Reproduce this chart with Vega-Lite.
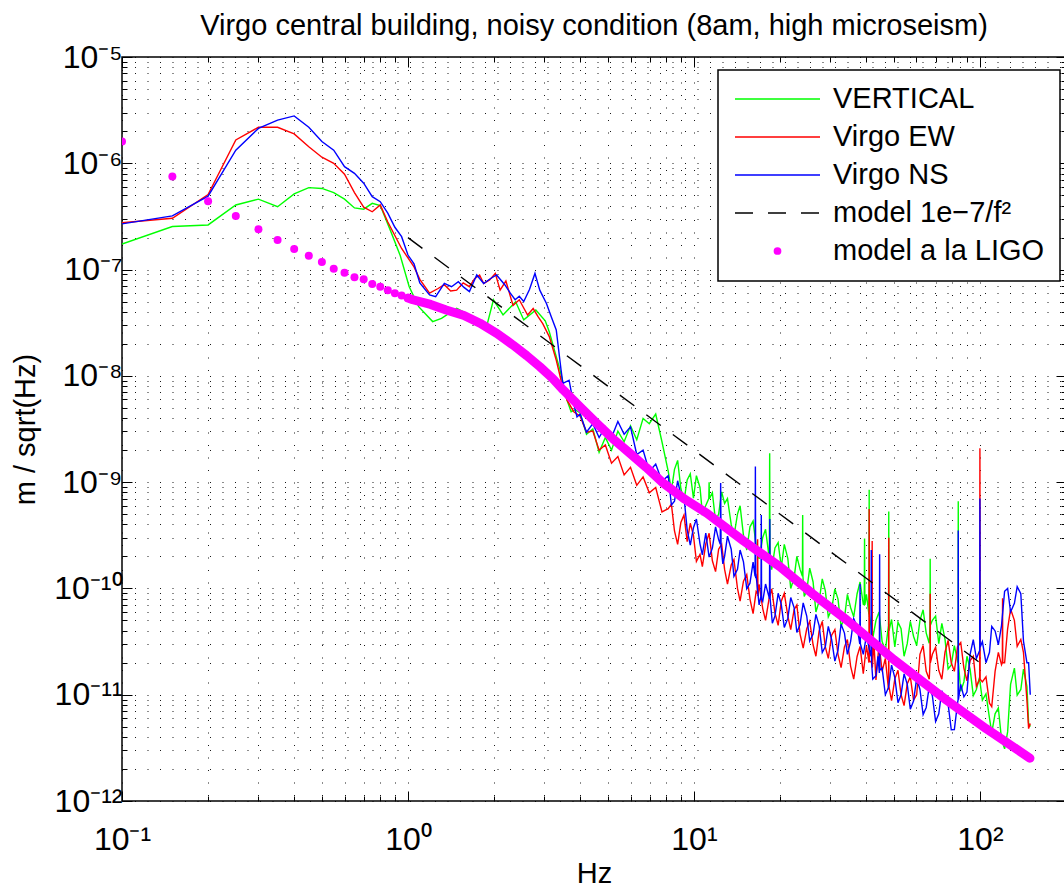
{
"$schema": "https://vega.github.io/schema/vega-lite/v6.json",
"width": 944, "height": 744,
"autosize": {"type": "none"},
"padding": {"left": 122, "top": 57, "right": 0, "bottom": 88},
"background": "white",
"title": {"text": "Virgo central building, noisy condition (8am, high microseism)", "fontSize": 29, "fontWeight": "normal", "font": "Liberation Sans", "anchor": "middle", "frame": "group", "baseline": "alphabetic", "offset": -23, "color": "black"},
"config": {
  "font": "Liberation Sans",
  "view": {"stroke": "black", "strokeWidth": 1.5},
  "axis": {"labelFont": "Liberation Sans", "labelFontSize": 32, "labelColor": "black", "titleFont": "Liberation Sans", "titleFontSize": 29, "titleFontWeight": "normal", "titleColor": "black", "tickColor": "black", "tickWidth": 1, "domain": false, "labelFlush": false, "labelOverlap": false, "labelBound": false, "gridColor": "black", "gridDash": [1, 11.5], "gridWidth": 1, "gridOpacity": 0.9}
},
"datasets": {
"green": [
{"f":0.1,"v":1.74e-7},{"f":0.15,"v":2.54e-7},{"f":0.2,"v":2.63e-7},{"f":0.25,"v":4.05e-7},{"f":0.3,"v":4.6e-7},{"f":0.35,"v":3.9e-7},{"f":0.4,"v":5.15e-7},{"f":0.45,"v":5.9e-7},{"f":0.5,"v":5.8e-7},{"f":0.55,"v":5.3e-7},{"f":0.6,"v":4.6e-7},{"f":0.65,"v":3.8e-7},{"f":0.7,"v":3.7e-7},{"f":0.75,"v":4.2e-7},{"f":0.8,"v":4.0e-7},{"f":0.87,"v":2.3e-7},{"f":0.94,"v":1.35e-7},{"f":1.01,"v":6.9e-8},{"f":1.09,"v":4.48e-8},{"f":1.22,"v":3.24e-8},{"f":1.31,"v":3.48e-8},{"f":1.48,"v":4.32e-8},{"f":1.64,"v":3.74e-8},{"f":1.89,"v":3.01e-8},{"f":1.99,"v":5.2e-8},{"f":2.15,"v":3.74e-8},{"f":2.38,"v":4.99e-8},{"f":2.54,"v":3.36e-8},{"f":2.8,"v":4.17e-8},{"f":3.02,"v":3.3e-8},{"f":3.12,"v":2.6e-8},{"f":3.4,"v":1.14e-8},{"f":3.6,"v":5.9e-9},{"f":3.72,"v":4.6e-9},{"f":3.85,"v":4.8e-9},
{"f":4.0,"v":4.47e-9},{"f":4.21,"v":2.82e-9},{"f":4.43,"v":3.16e-9},{"f":4.66,"v":1.91e-9},{"f":4.9,"v":2.63e-9},{"f":5.15,"v":2.0e-9},{"f":5.42,"v":3.02e-9},{"f":5.7,"v":2.4e-9},{"f":6.0,"v":3.39e-9},{"f":6.31,"v":2.51e-9},{"f":6.64,"v":3.98e-9},{"f":6.98,"v":3.55e-9},{"f":7.35,"v":4.37e-9},{"f":7.73,"v":2.4e-9},{"f":8.13,"v":1.26e-9},{"f":8.55,"v":1.32e-9},{"f":9.0,"v":8.71e-10},{"f":9.47,"v":1.05e-9},{"f":9.96,"v":7.08e-10},{"f":10.5,"v":8.91e-10},{"f":11.0,"v":6.03e-10},{"f":11.6,"v":7.94e-10},{"f":12.2,"v":5.01e-10},{"f":12.8,"v":6.31e-10},{"f":13.5,"v":3.98e-10},{"f":14.2,"v":5.01e-10},{"f":14.9,"v":3.16e-10},{"f":15.7,"v":3.8e-10},{"f":16.5,"v":2.51e-10},{"f":17.4,"v":3.02e-10},{"f":18.3,"v":2.0e-10},{"f":19.2,"v":2.4e-10},{"f":20.2,"v":1.58e-10},{"f":21.3,"v":1.91e-10},{"f":22.4,"v":1.26e-10},{"f":23.5,"v":1.51e-10},{"f":24.8,"v":9.55e-11},{"f":26.1,"v":1.15e-10},{"f":27.4,"v":7.59e-11},{"f":28.8,"v":9.55e-11},{"f":30.3,"v":6.31e-11},{"f":31.9,"v":7.94e-11},{"f":33.6,"v":5.25e-11},{"f":35.3,"v":6.61e-11},{"f":37.2,"v":8.91e-11},{"f":39.1,"v":7.08e-11},{"f":41.1,"v":5.62e-11},{"f":43.3,"v":5.01e-11},{"f":45.5,"v":3.16e-11},{"f":47.9,"v":4.47e-11},{"f":50.4,"v":2.82e-11},{"f":53.0,"v":4.17e-11},{"f":55.7,"v":3.02e-11},{"f":58.6,"v":3.55e-11},{"f":61.7,"v":5.01e-11},{"f":64.9,"v":3.8e-11},{"f":68.2,"v":5.01e-11},{"f":71.8,"v":3.02e-11},{"f":75.5,"v":3.31e-11},{"f":79.4,"v":1.91e-11},{"f":83.5,"v":2.09e-11},{"f":87.9,"v":1.32e-11},{"f":92.4,"v":1.74e-11},{"f":97.2,"v":1.12e-11},{"f":102,"v":8.91e-12},{"f":108,"v":6.03e-12},{"f":113,"v":6.61e-12},{"f":119,"v":3.8e-12},{"f":125,"v":4.47e-12},{"f":132,"v":1.78e-11},{"f":139,"v":1.12e-11},{"f":146,"v":1.2e-11},{"f":150,"v":5.01e-12},
{"f":8.34,"v":8.4e-10},{"f":8.77,"v":1.6e-9},{"f":9.23,"v":6.7e-10},{"f":9.71,"v":1.2e-9},{"f":10.2,"v":1.15e-9},{"f":10.7,"v":5.1e-10},{"f":11.9,"v":4.3e-10},{"f":12.5,"v":8.1e-10},{"f":13.1,"v":7.0e-10},{"f":13.8,"v":3.1e-10},{"f":14.5,"v":6.0e-10},{"f":15.3,"v":2.3e-10},{"f":16.1,"v":4.3e-10},{"f":16.9,"v":1.9e-10},{"f":17.8,"v":3.6e-10},{"f":18.7,"v":1.5e-10},{"f":19.7,"v":2.7e-10},{"f":20.7,"v":2.6e-10},{"f":21.8,"v":1.0e-10},{"f":22.9,"v":2.0e-10},{"f":24.3,"v":8.4e-11},{"f":25.4,"v":1.55e-10},{"f":26.7,"v":6.0e-11},{"f":28.1,"v":1.23e-10},{"f":29.5,"v":5.4e-11},{"f":31.1,"v":9.9e-11},{"f":32.7,"v":4.4e-11},{"f":34.4,"v":8.8e-11},{"f":36.2,"v":5.4e-11},{"f":38.1,"v":1.15e-10},{"f":40.1,"v":8.8e-11},{"f":42.2,"v":3.4e-11},{"f":44.4,"v":6.0e-11},{"f":46.7,"v":2.6e-11},{"f":49.1,"v":5.1e-11},{"f":51.7,"v":4.8e-11},{"f":54.3,"v":2.3e-11},{"f":57.1,"v":4.9e-11},{"f":60.1,"v":2.9e-11},{"f":63.3,"v":6.3e-11},{"f":66.5,"v":3.05e-11},{"f":70.0,"v":5.5e-11},{"f":73.6,"v":4.7e-11},{"f":77.4,"v":1.75e-11},{"f":81.4,"v":2.9e-11},{"f":85.7,"v":1.08e-11},{"f":90.1,"v":2.3e-11},{"f":94.8,"v":9.8e-12},{"f":99.6,"v":1.45e-11},{"f":105,"v":1.02e-11},{"f":110,"v":4.4e-12},{"f":116,"v":7.5e-12},{"f":122,"v":3.1e-12},{"f":128,"v":1.25e-11},{"f":135,"v":9.9e-12},{"f":142,"v":1.74e-11},{"f":148,"v":5.4e-12},
{"f":11.27,"v":7e-10},{"f":11.3,"v":1.0e-9},{"f":11.33,"v":7e-10},{"f":18.35,"v":2.1e-10},{"f":18.4,"v":1.87e-9},{"f":18.45,"v":2.1e-10},{"f":23.95,"v":1.3e-10},{"f":24.0,"v":4.9e-10},{"f":24.05,"v":1.3e-10},{"f":39.4,"v":7e-11},{"f":39.5,"v":2.95e-10},{"f":39.6,"v":7e-11},{"f":40.92,"v":5.7e-11},{"f":41.0,"v":8.5e-10},{"f":41.06,"v":5.6e-11},{"f":48.0,"v":5.3e-10},{"f":48.08,"v":4e-11},{"f":66.9,"v":4.5e-11},{"f":67.0,"v":1.9e-10},{"f":67.1,"v":4.5e-11},{"f":83.9,"v":2.0e-11},{"f":84.0,"v":6.6e-10},{"f":84.1,"v":2.0e-11}
],
"red": [
{"f":0.1,"v":2.76e-7},{"f":0.15,"v":3.04e-7},{"f":0.2,"v":5.07e-7},{"f":0.25,"v":1.66e-6},{"f":0.3,"v":2.18e-6},{"f":0.35,"v":2.18e-6},{"f":0.4,"v":1.89e-6},{"f":0.45,"v":1.43e-6},{"f":0.5,"v":1.14e-6},{"f":0.55,"v":1.0e-6},{"f":0.6,"v":7.9e-7},{"f":0.65,"v":5.3e-7},{"f":0.7,"v":3.86e-7},{"f":0.75,"v":3.5e-7},{"f":0.8,"v":4.05e-7},{"f":0.85,"v":2.8e-7},{"f":0.95,"v":1.58e-7},{"f":1.05,"v":1.06e-7},{"f":1.1,"v":8.1e-8},{"f":1.19,"v":6.0e-8},{"f":1.27,"v":6.6e-8},{"f":1.34,"v":7.2e-8},{"f":1.41,"v":6.3e-8},{"f":1.48,"v":6.4e-8},{"f":1.56,"v":7.5e-8},{"f":1.64,"v":6.9e-8},{"f":1.71,"v":8.2e-8},{"f":1.78,"v":8.9e-8},{"f":1.84,"v":7.4e-8},{"f":1.93,"v":8.0e-8},{"f":2.02,"v":9.2e-8},{"f":2.1,"v":6.4e-8},{"f":2.2,"v":7.8e-8},{"f":2.33,"v":4.6e-8},{"f":2.45,"v":5.2e-8},{"f":2.62,"v":3.74e-8},{"f":2.74,"v":4.3e-8},{"f":2.85,"v":3.6e-8},{"f":2.96,"v":3.1e-8},{"f":3.12,"v":2.34e-8},{"f":3.3,"v":1.41e-8},{"f":3.43,"v":9.1e-9},{"f":3.6,"v":5.9e-9},{"f":3.8,"v":4.6e-9},
{"f":4.0,"v":4.17e-9},{"f":4.21,"v":2.95e-9},{"f":4.43,"v":3.02e-9},{"f":4.66,"v":2.0e-9},{"f":4.9,"v":2.24e-9},{"f":5.15,"v":1.51e-9},{"f":5.42,"v":1.74e-9},{"f":5.7,"v":1.17e-9},{"f":6.0,"v":1.38e-9},{"f":6.31,"v":9.33e-10},{"f":6.64,"v":1.12e-9},{"f":6.98,"v":7.94e-10},{"f":7.35,"v":8.91e-10},{"f":7.73,"v":5.25e-10},{"f":8.13,"v":5.62e-10},{"f":8.55,"v":3.47e-10},{"f":9.0,"v":4.17e-10},{"f":9.47,"v":2.75e-10},{"f":9.96,"v":3.16e-10},{"f":10.5,"v":2.09e-10},{"f":11.0,"v":2.63e-10},{"f":11.6,"v":1.82e-10},{"f":12.2,"v":2.34e-10},{"f":12.8,"v":1.51e-10},{"f":13.5,"v":1.66e-10},{"f":14.2,"v":1.0e-10},{"f":14.9,"v":1.17e-10},{"f":15.7,"v":7.94e-11},{"f":16.5,"v":9.33e-11},{"f":17.4,"v":6.46e-11},{"f":18.3,"v":7.94e-11},{"f":19.2,"v":5.89e-11},{"f":20.2,"v":7.59e-11},{"f":21.3,"v":5.5e-11},{"f":22.4,"v":6.31e-11},{"f":23.5,"v":3.72e-11},{"f":24.8,"v":4.17e-11},{"f":26.1,"v":2.95e-11},{"f":27.4,"v":3.98e-11},{"f":28.8,"v":2.82e-11},{"f":30.3,"v":3.63e-11},{"f":31.9,"v":2.4e-11},{"f":33.6,"v":2.82e-11},{"f":35.3,"v":1.86e-11},{"f":37.2,"v":2.29e-11},{"f":39.1,"v":1.58e-11},{"f":41.1,"v":2.09e-11},{"f":43.3,"v":1.38e-11},{"f":45.5,"v":1.66e-11},{"f":47.9,"v":1.12e-11},{"f":50.4,"v":1.41e-11},{"f":53.0,"v":1.0e-11},{"f":55.7,"v":1.26e-11},{"f":58.6,"v":8.91e-12},{"f":61.7,"v":2.4e-11},{"f":64.9,"v":1.66e-11},{"f":68.2,"v":2.4e-11},{"f":71.8,"v":1.7e-11},{"f":75.5,"v":2.51e-11},{"f":79.4,"v":2.0e-11},{"f":83.5,"v":2.82e-11},{"f":87.9,"v":1.78e-11},{"f":92.4,"v":2.09e-11},{"f":97.2,"v":1.2e-11},{"f":102,"v":1.32e-11},{"f":108,"v":8.32e-12},{"f":113,"v":1.66e-11},{"f":119,"v":1.91e-11},{"f":125,"v":4.17e-11},{"f":132,"v":5.01e-11},{"f":139,"v":3.31e-11},{"f":146,"v":8.91e-12},{"f":150,"v":5.37e-12},
{"f":8.34,"v":6.2e-10},{"f":8.77,"v":2.6e-10},{"f":9.23,"v":4.9e-10},{"f":9.71,"v":4.1e-10},{"f":10.2,"v":1.8e-10},{"f":10.7,"v":1.6e-10},{"f":11.3,"v":3.3e-10},{"f":11.9,"v":1.44e-10},{"f":12.5,"v":2.6e-10},{"f":13.1,"v":1.1e-10},{"f":13.8,"v":1.87e-10},{"f":14.5,"v":7.6e-11},{"f":15.3,"v":1.35e-10},{"f":16.1,"v":5.8e-11},{"f":16.9,"v":1.09e-10},{"f":17.8,"v":5.0e-11},{"f":18.7,"v":9.9e-11},{"f":19.7,"v":4.5e-11},{"f":20.7,"v":9.0e-11},{"f":21.8,"v":4.1e-11},{"f":22.9,"v":7.0e-11},{"f":24.1,"v":2.75e-11},{"f":25.4,"v":4.9e-11},{"f":26.7,"v":2.3e-11},{"f":28.1,"v":4.9e-11},{"f":29.5,"v":2.2e-11},{"f":31.1,"v":4.1e-11},{"f":32.7,"v":1.8e-11},{"f":34.4,"v":3.3e-11},{"f":36.2,"v":1.4e-11},{"f":38.1,"v":2.85e-11},{"f":40.1,"v":2.9e-11},{"f":42.6,"v":3.1e-11},{"f":44.4,"v":3.0e-11},{"f":46.7,"v":2.2e-11},{"f":49.1,"v":8.8e-12},{"f":51.7,"v":1.7e-11},{"f":54.3,"v":7.9e-12},{"f":57.1,"v":1.48e-11},{"f":60.1,"v":1.0e-11},{"f":63.3,"v":2.9e-11},{"f":66.5,"v":1.4e-11},{"f":70.0,"v":2.8e-11},{"f":73.6,"v":1.4e-11},{"f":77.4,"v":3.25e-11},{"f":81.4,"v":1.66e-11},{"f":85.7,"v":3.1e-11},{"f":90.1,"v":1.35e-11},{"f":94.8,"v":2.3e-11},{"f":105,"v":1.47e-11},{"f":110,"v":7.7e-12},{"f":116,"v":2.5e-11},{"f":122,"v":2.0e-11},{"f":128,"v":6.4e-11},{"f":135,"v":2.85e-11},{"f":142,"v":2.5e-11},{"f":148,"v":4.8e-12},
{"f":16.66,"v":9e-11},{"f":16.7,"v":2.9e-10},{"f":16.74,"v":8.5e-11},{"f":40.92,"v":2.0e-11},{"f":41.0,"v":5.6e-10},{"f":41.06,"v":2.1e-11},{"f":41.95,"v":2e-11},{"f":42.0,"v":2.8e-10},{"f":42.05,"v":1.8e-11},{"f":47.95,"v":1.2e-11},{"f":48.0,"v":3.0e-10},{"f":48.05,"v":1.2e-11},{"f":66.9,"v":2e-11},{"f":67.0,"v":8.9e-11},{"f":67.1,"v":2e-11},{"f":99.8,"v":1.4e-11},{"f":100,"v":2.08e-9},{"f":100.2,"v":1.4e-11},{"f":119.8,"v":2e-11},{"f":120,"v":8.1e-11},{"f":120.2,"v":2e-11}
],
"blue": [
{"f":0.1,"v":2.69e-7},{"f":0.15,"v":3.2e-7},{"f":0.2,"v":4.9e-7},{"f":0.25,"v":1.33e-6},{"f":0.3,"v":2.13e-6},{"f":0.35,"v":2.55e-6},{"f":0.4,"v":2.79e-6},{"f":0.45,"v":2.18e-6},{"f":0.5,"v":1.6e-6},{"f":0.55,"v":1.33e-6},{"f":0.6,"v":9.3e-7},{"f":0.65,"v":8.05e-7},{"f":0.7,"v":6.5e-7},{"f":0.75,"v":4.85e-7},{"f":0.8,"v":4.35e-7},{"f":0.85,"v":3.4e-7},{"f":0.9,"v":2.5e-7},{"f":0.95,"v":2.04e-7},{"f":1.0,"v":1.37e-7},{"f":1.05,"v":1.13e-7},{"f":1.1,"v":7.5e-8},{"f":1.19,"v":5.77e-8},{"f":1.25,"v":5.56e-8},{"f":1.34,"v":7.4e-8},{"f":1.42,"v":6.9e-8},{"f":1.5,"v":7.7e-8},{"f":1.57,"v":6.8e-8},{"f":1.64,"v":6.2e-8},{"f":1.74,"v":8.9e-8},{"f":1.84,"v":7.4e-8},{"f":1.94,"v":8.2e-8},{"f":2.04,"v":8.9e-8},{"f":2.18,"v":7.2e-8},{"f":2.28,"v":6.0e-8},{"f":2.37,"v":5.2e-8},{"f":2.45,"v":5.6e-8},{"f":2.54,"v":5.0e-8},{"f":2.66,"v":6.5e-8},{"f":2.78,"v":9.2e-8},{"f":2.89,"v":6.4e-8},{"f":3.05,"v":4.8e-8},{"f":3.17,"v":3.6e-8},{"f":3.3,"v":2.7e-8},{"f":3.43,"v":1.14e-8},{"f":3.48,"v":8.5e-9},{"f":3.66,"v":9.1e-9},{"f":3.77,"v":5.9e-9},{"f":3.9,"v":4.1e-9},
{"f":4.0,"v":4.37e-9},{"f":4.21,"v":2.95e-9},{"f":4.43,"v":3.55e-9},{"f":4.66,"v":2.63e-9},{"f":4.9,"v":3.31e-9},{"f":5.15,"v":2.63e-9},{"f":5.42,"v":3.72e-9},{"f":5.7,"v":2.82e-9},{"f":6.0,"v":3.31e-9},{"f":6.31,"v":1.82e-9},{"f":6.64,"v":2.0e-9},{"f":6.98,"v":1.26e-9},{"f":7.35,"v":1.48e-9},{"f":7.73,"v":1.02e-9},{"f":8.13,"v":1.15e-9},{"f":8.55,"v":6.61e-10},{"f":9.0,"v":7.59e-10},{"f":9.47,"v":3.55e-10},{"f":9.96,"v":3.72e-10},{"f":10.5,"v":2.63e-10},{"f":11.0,"v":3.31e-10},{"f":11.6,"v":2.4e-10},{"f":12.2,"v":2.88e-10},{"f":12.8,"v":2.0e-10},{"f":13.5,"v":2.34e-10},{"f":14.2,"v":1.51e-10},{"f":14.9,"v":1.78e-10},{"f":15.7,"v":1.12e-10},{"f":16.5,"v":1.32e-10},{"f":17.4,"v":7.59e-11},{"f":18.3,"v":8.32e-11},{"f":19.2,"v":5.5e-11},{"f":20.2,"v":7.08e-11},{"f":21.3,"v":5.25e-11},{"f":22.4,"v":6.61e-11},{"f":23.5,"v":4.57e-11},{"f":24.8,"v":5.5e-11},{"f":26.1,"v":3.72e-11},{"f":27.4,"v":4.47e-11},{"f":28.8,"v":2.82e-11},{"f":30.3,"v":3.31e-11},{"f":31.9,"v":2.63e-11},{"f":33.6,"v":3.8e-11},{"f":35.3,"v":3.16e-11},{"f":37.2,"v":4.37e-11},{"f":39.1,"v":2.4e-11},{"f":41.1,"v":2.63e-11},{"f":43.3,"v":1.51e-11},{"f":45.5,"v":1.78e-11},{"f":47.9,"v":1.17e-11},{"f":50.4,"v":1.45e-11},{"f":53.0,"v":1.0e-11},{"f":55.7,"v":1.26e-11},{"f":58.6,"v":8.71e-12},{"f":61.7,"v":1.12e-11},{"f":64.9,"v":7.59e-12},{"f":68.2,"v":9.77e-12},{"f":71.8,"v":6.61e-12},{"f":75.5,"v":8.51e-12},{"f":79.4,"v":4.68e-12},{"f":83.5,"v":8.32e-12},{"f":87.9,"v":9.55e-12},{"f":92.4,"v":2.4e-11},{"f":97.2,"v":2.19e-11},{"f":102,"v":3.16e-11},{"f":108,"v":2.51e-11},{"f":113,"v":3.98e-11},{"f":119,"v":4.47e-11},{"f":125,"v":1.0e-10},{"f":132,"v":7.24e-11},{"f":139,"v":8.91e-11},{"f":146,"v":2.0e-11},{"f":150,"v":1.0e-11},
{"f":8.34,"v":6.1e-10},{"f":8.77,"v":1.03e-9},{"f":9.23,"v":7.3e-10},{"f":9.71,"v":2.55e-10},{"f":10.2,"v":4.5e-10},{"f":10.7,"v":2.07e-10},{"f":11.3,"v":1.97e-10},{"f":11.9,"v":3.8e-10},{"f":12.62,"v":1.7e-10},{"f":13.1,"v":3.1e-10},{"f":13.8,"v":1.3e-10},{"f":14.5,"v":2.3e-10},{"f":15.3,"v":9.9e-11},{"f":16.1,"v":1.77e-10},{"f":16.9,"v":7.0e-11},{"f":17.8,"v":1.1e-10},{"f":18.8,"v":4.7e-11},{"f":19.7,"v":9.0e-11},{"f":20.7,"v":4.3e-11},{"f":21.8,"v":8.2e-11},{"f":22.9,"v":3.85e-11},{"f":24.1,"v":7.3e-11},{"f":25.4,"v":3.2e-11},{"f":26.7,"v":5.7e-11},{"f":28.1,"v":2.5e-11},{"f":29.5,"v":4.4e-11},{"f":31.1,"v":2.07e-11},{"f":32.7,"v":4.6e-11},{"f":34.4,"v":2.4e-11},{"f":36.2,"v":5.2e-11},{"f":40.1,"v":3.6e-11},{"f":42.2,"v":1.4e-11},{"f":44.0,"v":2.3e-11},{"f":46.7,"v":1.0e-11},{"f":49.1,"v":1.9e-11},{"f":51.7,"v":8.4e-12},{"f":54.3,"v":1.57e-11},{"f":57.1,"v":7.3e-12},{"f":60.1,"v":1.43e-11},{"f":63.3,"v":6.5e-12},{"f":66.5,"v":1.2e-11},{"f":70.0,"v":5.6e-12},{"f":73.6,"v":1.09e-11},{"f":77.4,"v":8.2e-12},{"f":81.4,"v":4.7e-12},{"f":85.7,"v":1.25e-11},{"f":90.1,"v":1.06e-11},{"f":94.8,"v":3.3e-11},{"f":105,"v":2.0e-11},{"f":110,"v":4.4e-11},{"f":116,"v":2.95e-11},{"f":122,"v":9.4e-11},{"f":128,"v":6.0e-11},{"f":135,"v":1.04e-10},{"f":142,"v":3.2e-11},{"f":148,"v":2.0e-11},
{"f":12.36,"v":2.6e-10},{"f":12.4,"v":9.8e-10},{"f":12.44,"v":2.5e-10},{"f":16.36,"v":1.3e-10},{"f":16.4,"v":1.4e-9},{"f":16.44,"v":1.3e-10},{"f":17.16,"v":8.5e-11},{"f":17.2,"v":4.9e-10},{"f":17.24,"v":8e-11},{"f":18.37,"v":8e-11},{"f":18.42,"v":4.5e-10},{"f":18.47,"v":8e-11},{"f":38.0,"v":3e-11},{"f":38.1,"v":1.1e-10},{"f":38.2,"v":3e-11},{"f":41.6,"v":2.3e-11},{"f":41.7,"v":2.3e-10},{"f":41.8,"v":2.0e-11},{"f":44.5,"v":1.6e-11},{"f":44.6,"v":2.1e-10},{"f":44.7,"v":1.7e-11},{"f":83.9,"v":9e-12},{"f":84.0,"v":3.5e-10},{"f":84.1,"v":9e-12},{"f":99.8,"v":2.6e-11},{"f":100,"v":7.0e-10},{"f":100.2,"v":2.8e-11}
],
"model": [{"f":1,"v":2e-7},{"f":100,"v":2e-11}],
"ligodots": [
{"f":0.1,"v":1.6e-6},{"f":0.15,"v":7.5e-7},{"f":0.2,"v":4.4e-7},{"f":0.25,"v":3.2e-7},{"f":0.3,"v":2.39e-7},{"f":0.35,"v":1.9e-7},{"f":0.4,"v":1.56e-7},{"f":0.45,"v":1.35e-7},{"f":0.5,"v":1.18e-7},{"f":0.55,"v":1.02e-7},{"f":0.6,"v":9.35e-8},{"f":0.65,"v":8.46e-8},{"f":0.7,"v":8.1e-8},{"f":0.75,"v":7.3e-8},{"f":0.8,"v":6.9e-8},{"f":0.85,"v":6.4e-8},{"f":0.9,"v":6.0e-8},{"f":0.95,"v":5.7e-8},{"f":1.0,"v":5.4e-8}
],
"ligoline": [
{"f":1.0,"v":5.4e-8},{"f":1.04,"v":5.2e-8},{"f":1.2,"v":4.7e-8},{"f":1.36,"v":4.17e-8},{"f":1.57,"v":3.7e-8},{"f":1.785,"v":3.13e-8},{"f":2.05,"v":2.5e-8},{"f":2.33,"v":1.95e-8},{"f":2.6,"v":1.55e-8},{"f":2.89,"v":1.22e-8},{"f":3.2,"v":9.5e-9},{"f":3.49,"v":7.37e-9},{"f":4.0,"v":5.1e-9},{"f":4.57,"v":3.58e-9},{"f":5.2,"v":2.57e-9},{"f":5.97,"v":1.87e-9},{"f":6.8,"v":1.38e-9},{"f":7.81,"v":9.8e-10},{"f":9.3,"v":6.9e-10},{"f":11.1,"v":5.1e-10},{"f":14.9,"v":2.8e-10},{"f":20,"v":1.6e-10},{"f":26,"v":8.9e-11},{"f":34.2,"v":5.06e-11},{"f":50,"v":2.14e-11},{"f":76.4,"v":8.9e-12},{"f":105,"v":4.8e-12},{"f":149.6,"v":2.53e-12}
]
},
"layer": [
{
 "data": {"name": "green"},
 "mark": {"type": "line", "strokeWidth": 1.4, "clip": true},
 "encoding": {
  "x": {"field": "f", "type": "quantitative", "scale": {"type": "log", "domain": [0.1, 200], "nice": false},
   "axis": {"orient": "bottom", "values": [0.1,0.2,0.3,0.4,0.5,0.6,0.7,0.8,0.9,1,2,3,4,5,6,7,8,9,10,20,30,40,50,60,70,80,90,100,200], "grid": true,
    "labelExpr": "abs(log(datum.value)/LN10 - round(log(datum.value)/LN10)) < 0.01 ? '10' + (datum.value < 1 ? '⁻' : '') + (abs(round(log(datum.value)/LN10)) >= 10 ? substring('⁰¹²³⁴⁵⁶⁷⁸⁹', floor(abs(round(log(datum.value)/LN10))/10), floor(abs(round(log(datum.value)/LN10))/10) + 1) : '') + substring('⁰¹²³⁴⁵⁶⁷⁸⁹', abs(round(log(datum.value)/LN10)) % 10, abs(round(log(datum.value)/LN10)) % 10 + 1) : ''",
    "tickSize": {"condition": {"test": "abs(log(datum.value)/LN10 - round(log(datum.value)/LN10)) < 0.01", "value": -10}, "value": -5},
    "labelPadding": 33, "labelBaseline": "top", "labelAlign": "center",
    "title": "Hz", "titleY": 81, "titleBaseline": "alphabetic"}},
  "y": {"field": "v", "type": "quantitative", "scale": {"type": "log", "domain": [1e-12, 1e-5], "nice": false},
   "axis": {"orient": "left", "values": [1e-12,2e-12,3e-12,4e-12,5e-12,6e-12,7e-12,8e-12,9e-12,1e-11,2e-11,3e-11,4e-11,5e-11,6e-11,7e-11,8e-11,9e-11,1e-10,2e-10,3e-10,4e-10,5e-10,6e-10,7e-10,8e-10,9e-10,1e-9,2e-9,3e-9,4e-9,5e-9,6e-9,7e-9,8e-9,9e-9,1e-8,2e-8,3e-8,4e-8,5e-8,6e-8,7e-8,8e-8,9e-8,1e-7,2e-7,3e-7,4e-7,5e-7,6e-7,7e-7,8e-7,9e-7,1e-6,2e-6,3e-6,4e-6,5e-6,6e-6,7e-6,8e-6,9e-6,1e-5], "grid": true,
    "labelExpr": "abs(log(datum.value)/LN10 - round(log(datum.value)/LN10)) < 0.01 ? '10' + (datum.value < 1 ? '⁻' : '') + (abs(round(log(datum.value)/LN10)) >= 10 ? substring('⁰¹²³⁴⁵⁶⁷⁸⁹', floor(abs(round(log(datum.value)/LN10))/10), floor(abs(round(log(datum.value)/LN10))/10) + 1) : '') + substring('⁰¹²³⁴⁵⁶⁷⁸⁹', abs(round(log(datum.value)/LN10)) % 10, abs(round(log(datum.value)/LN10)) % 10 + 1) : ''",
    "tickSize": {"condition": {"test": "abs(log(datum.value)/LN10 - round(log(datum.value)/LN10)) < 0.01", "value": -10}, "value": -5},
    "labelPadding": 10, "labelAlign": "right", "labelBaseline": "middle",
    "title": "m / sqrt(Hz)", "titleX": -88, "titleBaseline": "alphabetic"}},
  "color": {"datum": "VERTICAL", "type": "nominal",
   "scale": {"domain": ["VERTICAL", "Virgo EW", "Virgo NS", "model 1e−7/f²", "model a la LIGO"], "range": ["#00ff00", "#ff0000", "#0000ff", "#000000", "#ff00ff"]},
   "legend": {"orient": "none", "legendX": 596, "legendY": 13, "direction": "vertical", "title": null,
    "symbolType": "stroke", "symbolSize": 7225, "symbolStrokeWidth": 1.5, "clipHeight": 28, "rowPadding": 9, "labelOffset": 41, "symbolOffset": 30,
    "labelFontSize": 29, "labelFont": "Liberation Sans", "labelColor": "black", "labelLimit": 500, "labelBaseline": "middle",
    "padding": 15, "strokeColor": "black", "fillColor": "white",
    "encode": {
     "symbols": {"update": {
      "shape": {"signal": "datum.value === 'model a la LIGO' ? 'circle' : 'stroke'"},
      "size": {"signal": "datum.value === 'model a la LIGO' ? 60 : 7225"},
      "fill": {"signal": "datum.value === 'model a la LIGO' ? '#ff00ff' : 'transparent'"},
      "fillOpacity": {"value": 1},
      "opacity": {"value": 1},
      "strokeWidth": {"signal": "datum.value === 'model a la LIGO' ? 0 : 1.5"},
      "strokeDash": {"signal": "datum.value === 'model 1e−7/f²' ? [18, 15] : [1, 0]"}
     }},
     "legend": {"update": {"strokeWidth": {"value": 1.5}}}
    }}
  }
 }
},
{
 "data": {"name": "red"},
 "mark": {"type": "line", "strokeWidth": 1.4, "clip": true},
 "encoding": {
  "x": {"field": "f", "type": "quantitative", "scale": {"type": "log", "domain": [0.1, 200], "nice": false},
   "axis": {"orient": "top", "values": [0.1,0.2,0.3,0.4,0.5,0.6,0.7,0.8,0.9,1,2,3,4,5,6,7,8,9,10,20,30,40,50,60,70,80,90,100,200], "grid": false, "labels": false, "title": null,
    "tickSize": {"condition": {"test": "abs(log(datum.value)/LN10 - round(log(datum.value)/LN10)) < 0.01", "value": -10}, "value": -5}}},
  "y": {"field": "v", "type": "quantitative", "scale": {"type": "log", "domain": [1e-12, 1e-5], "nice": false},
   "axis": {"orient": "right", "values": [1e-12,2e-12,3e-12,4e-12,5e-12,6e-12,7e-12,8e-12,9e-12,1e-11,2e-11,3e-11,4e-11,5e-11,6e-11,7e-11,8e-11,9e-11,1e-10,2e-10,3e-10,4e-10,5e-10,6e-10,7e-10,8e-10,9e-10,1e-9,2e-9,3e-9,4e-9,5e-9,6e-9,7e-9,8e-9,9e-9,1e-8,2e-8,3e-8,4e-8,5e-8,6e-8,7e-8,8e-8,9e-8,1e-7,2e-7,3e-7,4e-7,5e-7,6e-7,7e-7,8e-7,9e-7,1e-6,2e-6,3e-6,4e-6,5e-6,6e-6,7e-6,8e-6,9e-6,1e-5], "grid": false, "labels": false, "title": null,
    "tickSize": {"condition": {"test": "abs(log(datum.value)/LN10 - round(log(datum.value)/LN10)) < 0.01", "value": -10}, "value": -5}}},
  "color": {"datum": "Virgo EW", "type": "nominal",
   "scale": {"domain": ["VERTICAL", "Virgo EW", "Virgo NS", "model 1e−7/f²", "model a la LIGO"], "range": ["#00ff00", "#ff0000", "#0000ff", "#000000", "#ff00ff"]}}
 }
},
{
 "data": {"name": "blue"},
 "mark": {"type": "line", "strokeWidth": 1.4, "clip": true},
 "encoding": {
  "x": {"field": "f", "type": "quantitative", "scale": {"type": "log", "domain": [0.1, 200], "nice": false}, "axis": null},
  "y": {"field": "v", "type": "quantitative", "scale": {"type": "log", "domain": [1e-12, 1e-5], "nice": false}, "axis": null},
  "color": {"datum": "Virgo NS", "type": "nominal",
   "scale": {"domain": ["VERTICAL", "Virgo EW", "Virgo NS", "model 1e−7/f²", "model a la LIGO"], "range": ["#00ff00", "#ff0000", "#0000ff", "#000000", "#ff00ff"]}}
 }
},
{
 "data": {"name": "model"},
 "mark": {"type": "line", "strokeWidth": 1.4, "strokeDash": [18, 15], "clip": true},
 "encoding": {
  "x": {"field": "f", "type": "quantitative", "scale": {"type": "log", "domain": [0.1, 200], "nice": false}, "axis": null},
  "y": {"field": "v", "type": "quantitative", "scale": {"type": "log", "domain": [1e-12, 1e-5], "nice": false}, "axis": null},
  "color": {"datum": "model 1e−7/f²", "type": "nominal",
   "scale": {"domain": ["VERTICAL", "Virgo EW", "Virgo NS", "model 1e−7/f²", "model a la LIGO"], "range": ["#00ff00", "#ff0000", "#0000ff", "#000000", "#ff00ff"]}}
 }
},
{
 "data": {"name": "ligoline"},
 "mark": {"type": "line", "strokeWidth": 9, "strokeCap": "round", "strokeJoin": "round", "clip": true},
 "encoding": {
  "x": {"field": "f", "type": "quantitative", "scale": {"type": "log", "domain": [0.1, 200], "nice": false}, "axis": null},
  "y": {"field": "v", "type": "quantitative", "scale": {"type": "log", "domain": [1e-12, 1e-5], "nice": false}, "axis": null},
  "color": {"datum": "model a la LIGO", "type": "nominal",
   "scale": {"domain": ["VERTICAL", "Virgo EW", "Virgo NS", "model 1e−7/f²", "model a la LIGO"], "range": ["#00ff00", "#ff0000", "#0000ff", "#000000", "#ff00ff"]}}
 }
},
{
 "data": {"name": "ligodots"},
 "mark": {"type": "point", "filled": true, "size": 64, "opacity": 1, "clip": true},
 "encoding": {
  "x": {"field": "f", "type": "quantitative", "scale": {"type": "log", "domain": [0.1, 200], "nice": false}, "axis": null},
  "y": {"field": "v", "type": "quantitative", "scale": {"type": "log", "domain": [1e-12, 1e-5], "nice": false}, "axis": null},
  "color": {"datum": "model a la LIGO", "type": "nominal",
   "scale": {"domain": ["VERTICAL", "Virgo EW", "Virgo NS", "model 1e−7/f²", "model a la LIGO"], "range": ["#00ff00", "#ff0000", "#0000ff", "#000000", "#ff00ff"]}}
 }
}
],
"resolve": {"scale": {"x": "shared", "y": "shared", "color": "shared"}, "axis": {"x": "independent", "y": "independent"}}
}
